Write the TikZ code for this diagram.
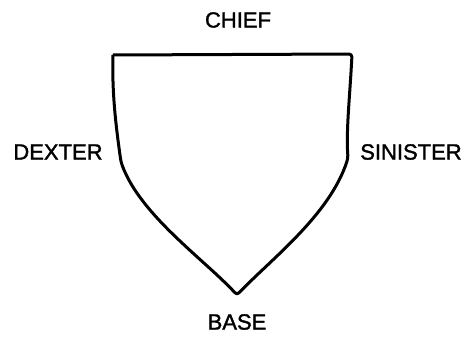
\documentclass[tikz,border=0pt]{standalone}
\usepackage{fontspec}
\setmainfont{Liberation Sans}[FakeBold=1.5]
\begin{document}
\begin{tikzpicture}[x=1pt,y=-1pt]
\useasboundingbox (0,0) rectangle (464,339);
\tikzset{label text/.style={font=\fontsize{22}{24}\selectfont}}

\coordinate (tl) at (113,55);
\coordinate (tr) at (352,54);
\coordinate (base) at (237,295);

\draw[line width=3pt, line join=round, rounded corners=3pt]
  (tl) -- (tr)
  .. controls (350,95) and (346,130) .. (348,158)
  .. controls (330,215) and (270,260) .. (base)
  .. controls (205,260) and (140,215) .. (121,162)
  .. controls (115,120) and (112,90) .. (tl);

\node[label text] (chief) at (238,20) {CHIEF};
\node[label text] (dexter) at (58,152) {DEXTER};
\node[label text] (sinister) at (411,152) {SINISTER};
\node[label text] (basetext) at (237,322) {BASE};
\end{tikzpicture}
\end{document}
